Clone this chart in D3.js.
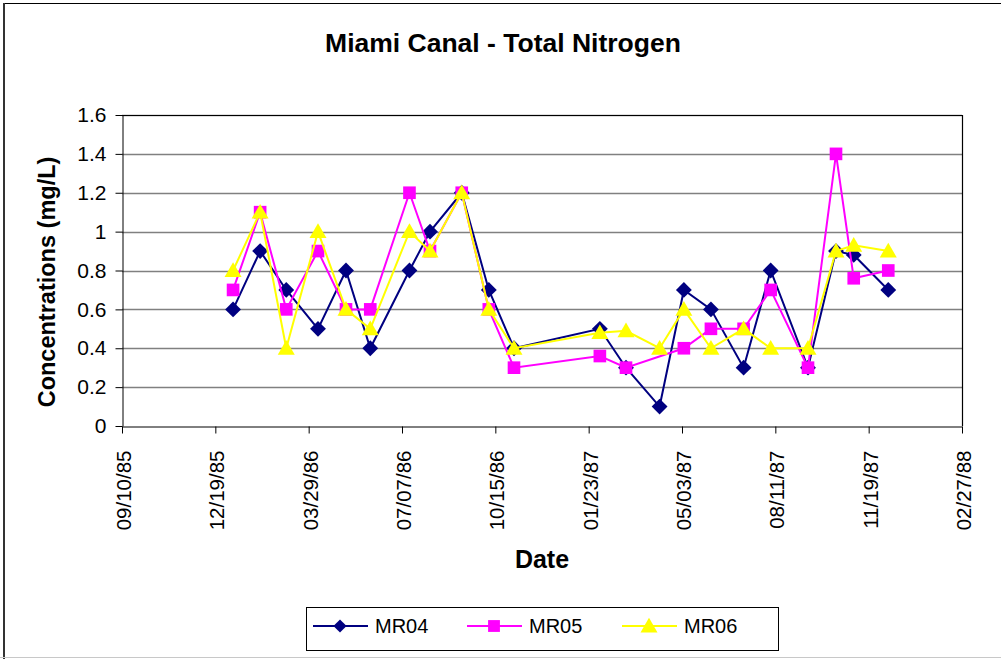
<!DOCTYPE html>
<html>
<head>
<meta charset="utf-8">
<script src="https://cdn.jsdelivr.net/npm/d3@7"></script>
<style>
body { margin: 0; background: #fff; }
svg { display: block; font-family: "Liberation Sans", Arial, sans-serif; }
</style>
</head>
<body>
<svg id="chart" width="1001" height="659"></svg>
<script>
// sample dates (mm/dd/yy)
var dates = ["1986-01-07","1986-02-05","1986-03-05","1986-04-08","1986-05-08","1986-06-03",
	"1986-07-15","1986-08-06","1986-09-09","1986-10-08","1986-11-04","1987-02-04",
	"1987-03-04","1987-04-09","1987-05-05","1987-06-03","1987-07-08","1987-08-06",
	"1987-09-15","1987-10-15","1987-11-03","1987-12-10"];

var mr04 = [0.6,0.9,0.7,0.5,0.8,0.4,0.8,1.0,1.2,0.7,0.4,0.5,0.3,0.1,0.7,0.6,0.3,0.8,0.3,0.9,0.88,0.7];
var mr05 = [0.7,1.1,0.6,0.9,0.6,0.6,1.2,0.9,1.2,0.6,0.3,0.36,0.3,null,0.4,0.5,0.5,0.7,0.3,1.4,0.76,0.8];
var mr06 = [0.8,1.1,0.4,1.0,0.6,0.5,1.0,0.9,1.2,0.6,0.4,0.48,0.49,0.4,0.6,0.4,0.5,0.4,0.4,0.9,0.93,0.9];

var seriesNames = ["MR04", "MR05", "MR06"];
var yTicks = [0, 0.2, 0.4, 0.6, 0.8, 1, 1.2, 1.4, 1.6];
var xStart = "1985-09-10", xEnd = "1988-02-27", xStepDays = 100;

var parse = d3.utcParse("%Y-%m-%d");
var fmt = d3.utcFormat("%m/%d/%y");

var series = [
	{ name: seriesNames[0], values: mr04, color: "#000080", shape: "diamond" },
	{ name: seriesNames[1], values: mr05, color: "#FF00FF", shape: "square" },
	{ name: seriesNames[2], values: mr06, color: "#FFFF00", shape: "triangle" }
];

var svg = d3.select("#chart");
var pLeft = 122, pRight = 962, pTop = 115, pBottom = 426;

var x = d3.scaleUtc()
	.domain([parse(xStart), parse(xEnd)])
	.range([pLeft, pRight]);
var y = d3.scaleLinear()
	.domain([0, 1.6])
	.range([pBottom, pTop]);

var xTicks = d3.range(0, 901, xStepDays).map(function(d){
	return d3.utcDay.offset(parse(xStart), d);
});

// outer frame
svg.append("line").attr("x1", 3).attr("y1", 3.5).attr("x2", 1001).attr("y2", 3.5)
	.attr("stroke", "#000").attr("stroke-width", 1);
svg.append("line").attr("x1", 4).attr("y1", 3).attr("x2", 4).attr("y2", 659)
	.attr("stroke", "#333").attr("stroke-width", 2);
svg.append("line").attr("x1", 0).attr("y1", 657.5).attr("x2", 1001).attr("y2", 657.5)
	.attr("stroke", "#c8c8c8").attr("stroke-width", 1);

// gridlines
svg.append("g")
	.selectAll("line")
	.data(yTicks.slice(1))
	.enter()
		.append("line")
		.attr("x1", pLeft).attr("x2", pRight)
		.attr("y1", function(d){ return Math.round(y(d)) + 0.5; })
		.attr("y2", function(d){ return Math.round(y(d)) + 0.5; })
		.attr("stroke", "#808080")
		.attr("stroke-width", 1.5);

// plot border (top/right)
svg.append("path")
	.attr("d", "M" + pLeft + "," + (pTop + 0.5) + "H" + (pRight + 0.5) + "V" + pBottom)
	.attr("fill", "none").attr("stroke", "#000").attr("stroke-width", 1.2);

// y axis
var yAxis = svg.append("g")
	.attr("transform", "translate(" + (pLeft + 0.5) + ",0)")
	.call(d3.axisLeft(y).tickValues(yTicks).tickSize(7).tickSizeOuter(0).tickPadding(9)
		.tickFormat(function(d){ return String(d); }));
yAxis.selectAll("text").attr("font-size", 21).attr("fill", "#000")
	.attr("font-family", "Liberation Sans, Arial, sans-serif");
yAxis.selectAll("line, path").attr("stroke", "#000");

// x axis
var xAxis = svg.append("g")
	.attr("transform", "translate(0," + (pBottom + 0.5) + ")")
	.call(d3.axisBottom(x).tickValues(xTicks).tickSize(7).tickSizeOuter(0).tickFormat(fmt));
xAxis.selectAll("line, path").attr("stroke", "#000");
xAxis.selectAll("text")
	.attr("font-size", 20.5).attr("fill", "#000")
	.attr("font-family", "Liberation Sans, Arial, sans-serif")
	.attr("text-anchor", "end")
	.attr("dy", null)
	.attr("y", 0)
	.attr("dominant-baseline", "central")
	.attr("transform", "translate(1,24) rotate(-90)");

// markers
var symbolFor = {
	diamond: d3.symbol().type(d3.symbolDiamond2).size(160),
	square: d3.symbol().type(d3.symbolSquare).size(160),
	triangle: d3.symbol().type(d3.symbolTriangle).size(125)
};

var line = d3.line()
	.x(function(d){ return x(d.date); })
	.y(function(d){ return y(d.value); });

series.forEach(function(s){
	var pts = dates.map(function(dt, i){ return { date: parse(dt), value: s.values[i] }; })
		.filter(function(d){ return d.value != null; });
	var g = svg.append("g");
	g.append("path")
		.attr("d", line(pts))
		.attr("fill", "none")
		.attr("stroke", s.color)
		.attr("stroke-width", 2);
	g.selectAll("path.m")
		.data(pts)
		.enter()
			.append("path")
			.attr("class", "m")
			.attr("d", symbolFor[s.shape])
			.attr("transform", function(d){
				var dy = s.shape === "triangle" ? 1.5 : 0;
				return "translate(" + x(d.date) + "," + (y(d.value) + dy) + ")";
			})
			.attr("fill", s.color);
});

// titles
svg.append("text")
	.attr("x", 503).attr("y", 52)
	.attr("text-anchor", "middle")
	.attr("font-size", 26.5).attr("font-weight", "bold")
	.text("Miami Canal - Total Nitrogen");

svg.append("text")
	.attr("transform", "translate(47,282) rotate(-90)")
	.attr("text-anchor", "middle")
	.attr("dominant-baseline", "central")
	.attr("font-size", 23.5).attr("font-weight", "bold")
	.text("Concentrations (mg/L)");

svg.append("text")
	.attr("x", 542).attr("y", 568)
	.attr("text-anchor", "middle")
	.attr("font-size", 25).attr("font-weight", "bold")
	.text("Date");

// legend
var legend = svg.append("g");
legend.append("rect")
	.attr("x", 306.5).attr("y", 607.5).attr("width", 472).attr("height", 43)
	.attr("fill", "#fff").attr("stroke", "#000").attr("stroke-width", 1);
var legendX = [313, 467, 622];
var legendSym = {
	diamond: d3.symbol().type(d3.symbolDiamond2).size(110),
	square: d3.symbol().type(d3.symbolSquare).size(140),
	triangle: d3.symbol().type(d3.symbolTriangle).size(125)
};
series.forEach(function(s, i){
	var lx = legendX[i], ly = 626;
	legend.append("line")
		.attr("x1", lx).attr("x2", lx + 55).attr("y1", ly).attr("y2", ly)
		.attr("stroke", s.color).attr("stroke-width", 2);
	legend.append("path")
		.attr("d", legendSym[s.shape])
		.attr("transform", "translate(" + (lx + 27) + "," + (ly + (s.shape === "triangle" ? 1.5 : 0)) + ")")
		.attr("fill", s.color);
	legend.append("text")
		.attr("x", lx + 62).attr("y", ly)
		.attr("dominant-baseline", "central")
		.attr("font-size", 20)
		.text(s.name);
});
</script>
</body>
</html>
